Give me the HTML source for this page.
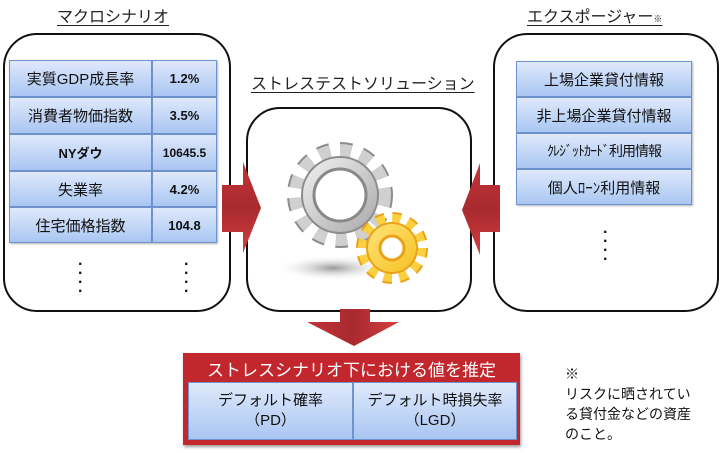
<!DOCTYPE html>
<html><head><meta charset="utf-8"><style>
body{margin:0;width:720px;height:453px;background:#fff;position:relative;overflow:hidden;font-family:"Liberation Sans","Noto Sans CJK JP",sans-serif;}
.a{position:absolute}
.ttl{position:absolute;font-size:16px;color:#222;text-decoration:underline;text-underline-offset:3px;white-space:nowrap}
.box{position:absolute;border:2px solid #111;border-radius:34px;background:#fff}
.cell{position:absolute;background:linear-gradient(#dfe9fb,#a9c6f2);border:1px solid #6f93cf;box-sizing:border-box;display:flex;align-items:center;justify-content:center;font-size:15px;color:#111;box-shadow:1px 1px 2px rgba(0,0,0,.3)}
.n{font-weight:bold}
.dots{position:absolute;font-size:16px;line-height:9px;color:#111;font-weight:bold}
</style></head><body>
<div class="ttl" style="left:57px;top:3px">マクロシナリオ</div>
<div class="ttl" style="left:251px;top:70px">ストレステストソリューション</div>
<div class="ttl" style="left:527px;top:3px">エクスポージャー<span style="font-size:9px">※</span></div>

<div class="box" style="left:3px;top:33px;width:224px;height:275px"></div>
<div class="box" style="left:246px;top:107px;width:222px;height:201px"></div>
<div class="box" style="left:493px;top:33px;width:222px;height:275px"></div>

<div class="cell" style="left:9px;top:60px;width:143px;height:37px">実質GDP成長率</div>
<div class="cell n" style="left:152px;top:60px;width:65px;height:37px;font-size:13px">1.2%</div>
<div class="cell" style="left:9px;top:97px;width:143px;height:37px">消費者物価指数</div>
<div class="cell n" style="left:152px;top:97px;width:65px;height:37px;font-size:13px">3.5%</div>
<div class="cell n" style="left:9px;top:134px;width:143px;height:37px;font-size:13px">NYダウ</div>
<div class="cell n" style="left:152px;top:134px;width:65px;height:37px;font-size:12px">10645.5</div>
<div class="cell" style="left:9px;top:171px;width:143px;height:36px">失業率</div>
<div class="cell n" style="left:152px;top:171px;width:65px;height:36px;font-size:13px">4.2%</div>
<div class="cell" style="left:9px;top:207px;width:143px;height:36px">住宅価格指数</div>
<div class="cell n" style="left:152px;top:207px;width:65px;height:36px;font-size:13px">104.8</div>
<div class="dots" style="left:78px;top:260px">·<br>·<br>·<br>·</div>
<div class="dots" style="left:184px;top:260px">·<br>·<br>·<br>·</div>

<div class="cell" style="left:516px;top:61px;width:176px;height:36px">上場企業貸付情報</div>
<div class="cell" style="left:516px;top:97px;width:176px;height:36px">非上場企業貸付情報</div>
<div class="cell" style="left:516px;top:133px;width:176px;height:36px;font-size:14px;letter-spacing:-1px">ｸﾚｼﾞｯﾄｶｰﾄﾞ利用情報</div>
<div class="cell" style="left:516px;top:169px;width:176px;height:36px">個人ﾛｰﾝ利用情報</div>
<div class="dots" style="left:603px;top:228px">·<br>·<br>·<br>·</div>

<svg class="a" style="left:0;top:0" width="720" height="453">
<defs>
<linearGradient id="ar" x1="0" y1="0" x2="0" y2="1"><stop offset="0" stop-color="#c4343a"/><stop offset=".5" stop-color="#a82a2f"/><stop offset="1" stop-color="#d43d3f"/></linearGradient>
<linearGradient id="ad" x1="0" y1="0" x2="1" y2="0"><stop offset="0" stop-color="#c4343a"/><stop offset=".5" stop-color="#a82a2f"/><stop offset="1" stop-color="#d43d3f"/></linearGradient>
<radialGradient id="sh"><stop offset="0" stop-color="#999"/><stop offset="1" stop-color="#fff" stop-opacity="0"/></radialGradient>
<linearGradient id="gg" x1="0" y1="0" x2="1" y2="1"><stop offset="0" stop-color="#f2f2f2"/><stop offset="1" stop-color="#a8a8a8"/></linearGradient>
<linearGradient id="yg" x1="0" y1="0" x2="1" y2="1"><stop offset="0" stop-color="#ffe57a"/><stop offset="1" stop-color="#f4c020"/></linearGradient>
</defs>
<path d="M222 185 H243 V162 L261 208 L243 253 V232 H222 Z" fill="url(#ar)"/>
<path d="M500 185 H480 V163 L462 210 L480 255 V232 H500 Z" fill="url(#ar)"/>
<path d="M340 309 H370 V322 H399 L354 346 L307 322 H340 Z" fill="url(#ad)"/>
<ellipse cx="333" cy="268" rx="58" ry="13" fill="url(#sh)"/>
<g transform="translate(340,195)">
<circle r="44" fill="none" stroke="#8c8c8c" stroke-width="18" stroke-dasharray="11 9.7"/>
<circle r="44" fill="none" stroke="#d0d0d0" stroke-width="14" stroke-dasharray="11 9.7"/>
<circle r="38" fill="url(#gg)" stroke="#8c8c8c" stroke-width="2"/>
<circle r="26" fill="#fff" stroke="#888" stroke-width="3"/>
</g>
<g transform="translate(392,248)">
<circle r="29" fill="none" stroke="#e8a21c" stroke-width="14" stroke-dasharray="8 7.2"/>
<circle r="29" fill="none" stroke="#fbd040" stroke-width="10" stroke-dasharray="8 7.2"/>
<circle r="25" fill="url(#yg)" stroke="#e8a21c" stroke-width="2"/>
<circle r="12" fill="#fff" stroke="#e8a21c" stroke-width="3"/>
</g>
</svg>

<div class="a" style="left:183px;top:353px;width:337px;height:92px;background:#c1272d;box-shadow:1px 2px 3px rgba(0,0,0,.4)"></div>
<div class="a" style="left:183px;top:356px;width:337px;text-align:center;color:#fff;font-size:17px;white-space:nowrap">ストレスシナリオ下における値を推定</div>
<div class="cell" style="left:188px;top:382px;width:165px;height:58px;font-size:15px;text-align:center;line-height:20px;box-shadow:none">デフォルト確率<br>（PD）</div>
<div class="cell" style="left:353px;top:382px;width:164px;height:58px;font-size:15px;text-align:center;line-height:20px;box-shadow:none">デフォルト時損失率<br>（LGD）</div>

<div class="a" style="left:565px;top:364px;font-size:14px;line-height:20px;color:#111;white-space:nowrap">※<br>リスクに晒されてい<br>る貸付金などの資産<br>のこと。</div>
</body></html>
